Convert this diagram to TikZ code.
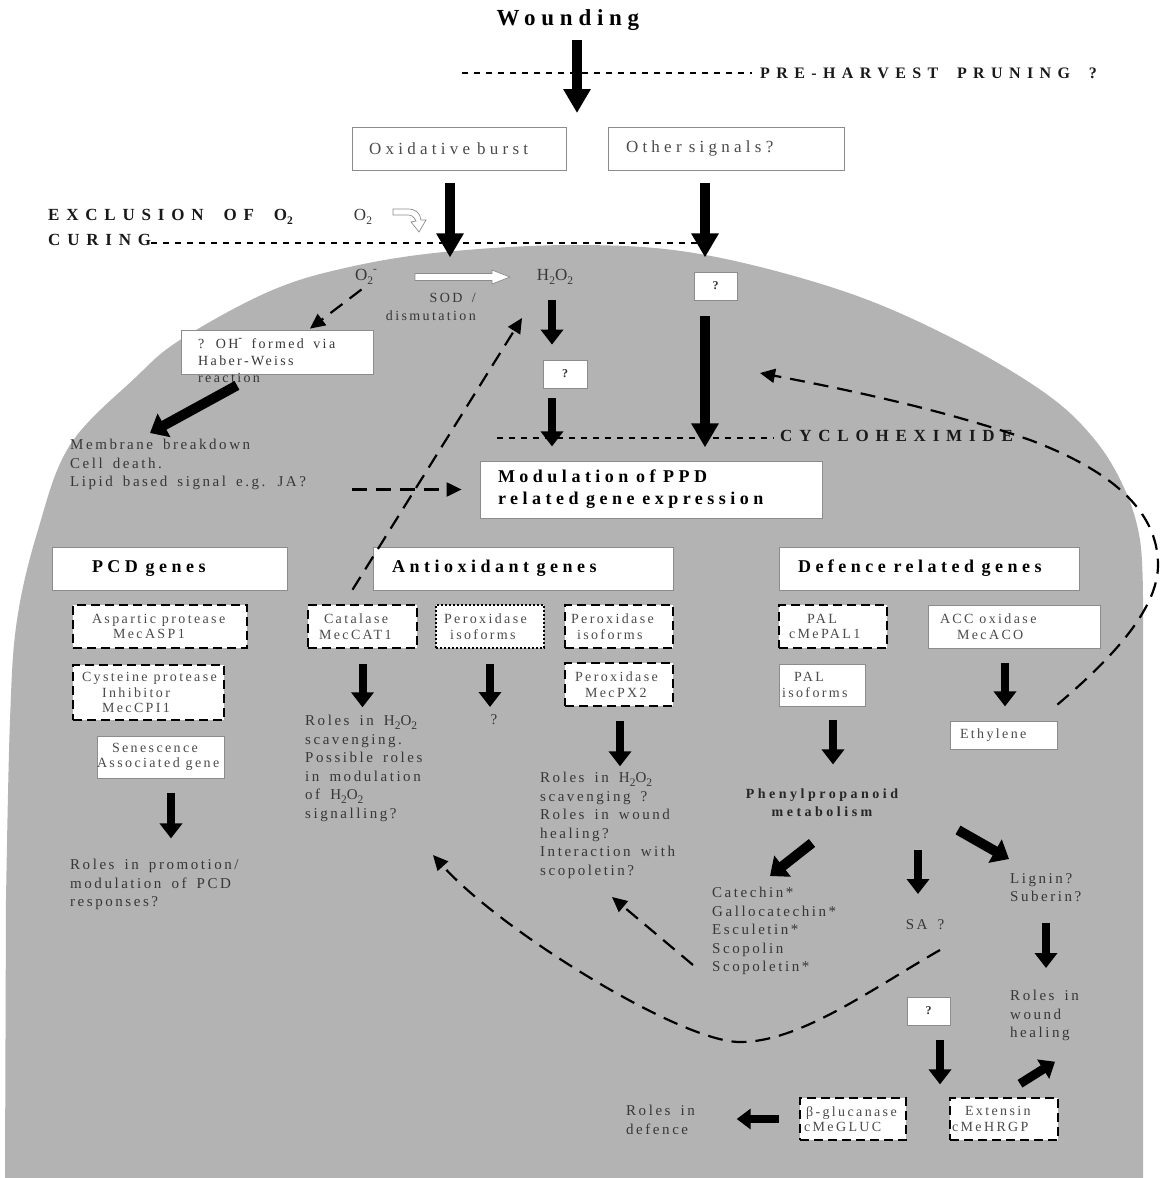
\documentclass[tikz,border=0pt]{standalone}
\usepackage{fontspec}
\setmainfont{Liberation Serif}
\newfontfamily\rtxt{Liberation Serif}[LetterSpace=17,WordSpace=1.6]
\newfontfamily\btxt{Liberation Serif}[LetterSpace=25,WordSpace=1.8]
\newfontfamily\ctxt{Liberation Serif}[LetterSpace=40,WordSpace=1.8]
\usetikzlibrary{arrows.meta}
\definecolor{cellgrey}{RGB}{179,179,179}
\definecolor{txtgrey}{RGB}{55,55,55}
\definecolor{boxtxt}{RGB}{75,75,75}
\definecolor{edgegrey}{RGB}{140,140,140}
\newcommand\sbs[1]{\raisebox{-0.25em}{\fontsize{11.5}{11.5}\selectfont #1}}
\newcommand\sps[1]{\raisebox{0.5em}{\fontsize{11.5}{11.5}\selectfont #1}}
\newcommand\wsp{\spaceskip=0.42em plus 0.1em\relax}
\begin{document}
\begin{tikzpicture}[x=1pt,y=-1pt,
  body/.style={font={\rtxt\fontsize{15}{18.5}\selectfont}, text=txtgrey, inner sep=0pt, align=left, anchor=north west},
  boxf/.style={font={\rtxt\fontsize{14}{15.5}\selectfont}, text=boxtxt},
  solidbox/.style={draw=edgegrey, line width=0.8pt, fill=white, inner sep=0pt, align=left, execute at begin node=\wsp},
  dashbox/.style={draw=black, line width=2.6pt, dash pattern=on 9pt off 5pt, fill=white, inner sep=0pt, align=left, execute at begin node=\wsp},
  dotbox/.style={draw=black, line width=2pt, dash pattern=on 2pt off 2pt, fill=white, inner sep=0pt, align=left, execute at begin node=\wsp},
  hdr/.style={solidbox, font={\btxt\bfseries\fontsize{18}{22}\selectfont}, text=black},
  qbox/.style={solidbox, align=center, font={\bfseries\fontsize{12}{12}\selectfont}, text=black!80},
  capsf/.style={font={\ctxt\bfseries\fontsize{17}{19}\selectfont}, text=black!90, inner sep=0pt, anchor=west},
  arr/.style={line width=8pt, -{Triangle[length=15pt,width=22pt]}},
  bigarr/.style={line width=10pt, -{Triangle[length=24pt,width=26pt]}},
  diagarr/.style={line width=10pt, -{Triangle[length=16pt,width=26pt]}},
  dasharr/.style={line width=2.2pt, dash pattern=on 15pt off 9pt, -{Triangle[length=15pt,width=14pt]}},
  thindash/.style={line width=1.3pt, dash pattern=on 6pt off 6pt}
]
\useasboundingbox (0,0) rectangle (1161,1178);
\fill[white] (0,0) rectangle (1161,1178);
% cell
\fill[cellgrey] (5,1178) -- plot[smooth, tension=0.6] coordinates {(6,900) (10,720) (17,620) (38,530) (70,445) (135,378) (180,340) (268,292) (345,268) (444,252) (580,245) (700,254) (840,290) (950,337) (1045,393) (1095,440) (1125,490) (1140,540) (1143,600)} -- (1143,1178) -- cycle;

% top
\node[font={\btxt\bfseries\fontsize{23}{26}\selectfont}, inner sep=0pt] (wound) at (568,20) {Wounding};
\node[capsf, font={\ctxt\bfseries\fontsize{16}{18}\selectfont}] (prune) at (760,73) {PRE-HARVEST PRUNING ?};
\coordinate (pr0) at (462,73);
\draw[thindash] (pr0) -- ([xshift=-8pt]prune.west);
\coordinate (w0) at (577,40);
\coordinate (w1) at (577,113);
\draw[bigarr] (w0) -- (w1);

\node[solidbox, font={\btxt\fontsize{17}{20}\selectfont}, text=boxtxt, text width=214pt, minimum height=43pt] (ox) at (459,148.5) {\hspace*{17pt}Oxidative burst};
\node[solidbox, font={\btxt\fontsize{17}{20}\selectfont}, text=boxtxt, text width=236pt, minimum height=43pt] (other) at (726,148.5) {\hspace*{18pt}Other signals?};

\node[capsf] (excl) at (48,217) {EXCLUSION OF O\sbs{2}};
\node[capsf] (cur) at (48,240) {CURING};
\coordinate (curEnd) at (702,243);
\draw[thindash] (cur.east |- curEnd) -- (curEnd);

\node[font={\rtxt\fontsize{17}{20}\selectfont}, text=txtgrey] (o2) at (363,217) {O\sbs{2}};
\draw[edgegrey, line width=0.7pt, fill=white] (393,209) -- (408,209) .. controls (416,209) and (420,213) .. (421,220) -- (426,220) -- (419,232) -- (411,222) -- (416,221) .. controls (414,217) and (412,215) .. (408,215) -- (393,215) -- cycle;

\draw[bigarr] ([xshift=-9pt,yshift=-13pt]ox.south) -- ++(0,74);
\draw[bigarr] ([xshift=-21pt,yshift=-13pt]other.south) -- ++(0,74);

% ROS
\node[font={\rtxt\fontsize{17}{20}\selectfont}, text=txtgrey] (o2m) at (366,277) {O\sbs{2}\sps{-}};
\node[font={\rtxt\fontsize{17}{20}\selectfont}, text=txtgrey] (h2o2) at (555,277) {H\sbs{2}O\sbs{2}};
\draw[edgegrey, line width=0.7pt, fill=white] (415,273.5) -- (492,273.5) -- (492,270) -- (510,277) -- (492,284) -- (492,280.5) -- (415,280.5) -- cycle;
\node[font={\rtxt\fontsize{14}{18}\selectfont}, text=txtgrey, align=right, anchor=north east, inner sep=0pt] (sod) at (476,293) {SOD /\\dismutation};

\node[solidbox, minimum width=192pt, minimum height=44pt] (ohb) at (277,352) {};
\node[body, font={\rtxt\fontsize{14}{17}\selectfont}] (oht) at (198,338) {? OH\sps{-} formed via\\Haber-Weiss\\reaction};
\draw[dasharr] ([xshift=10pt,yshift=-1pt]o2m.south west) -- ([xshift=33pt,yshift=1pt]ohb.north);
\node[body] (mem) at (70,439) {Membrane breakdown\\Cell death.\\Lipid based signal e.g. JA?};
\draw[diagarr] ([xshift=-40pt,yshift=-11pt]ohb.south) -- ([xshift=80pt,yshift=6pt]mem.north west);

% H2O2 branch
\node[qbox, minimum width=44pt, minimum height=28pt] (q2) at (565,374) {?};
\draw[arr] ([xshift=-13pt,yshift=60pt]q2.north) -- ([xshift=-13pt,yshift=15pt]q2.north);
\draw[arr] ([xshift=-13pt,yshift=-10pt]q2.south) -- ++(0,48);
\node[qbox, minimum width=43pt, minimum height=28pt] (q1) at (715.5,286) {?};
\draw[bigarr] ([xshift=-10.5pt,yshift=-16pt]q1.south) -- ++(0,131);

\node[capsf] (cyc) at (780,436) {CYCLOHEXIMIDE};
\coordinate (cy0) at (497,438);
\draw[thindash] (cy0) -- ([xshift=-6pt]cyc.west |- cy0);

\node[solidbox, font={\btxt\bfseries\fontsize{18}{22}\selectfont}, text=black, text width=342pt, minimum height=57pt] (mod) at (651,489.5) {\hspace*{18pt}Modulation of PPD\\\hspace*{18pt}related gene expression};
\draw[dasharr] ([xshift=-128pt]mod.west) -- ([xshift=-18pt]mod.west);

% headers
\node[hdr, text width=235pt, minimum height=43pt] (pcd) at (169.5,568.5) {\hspace*{40pt}PCD genes};
\node[hdr, text width=300pt, minimum height=43pt] (anti) at (523,568.5) {\hspace*{19pt}Antioxidant genes};
\node[hdr, text width=300pt, minimum height=43pt] (def) at (929,568.5) {\hspace*{19pt}Defence related genes};

% PCD column
\node[dashbox, boxf, text width=174pt, minimum height=43pt] (asp) at (160,626.5) {\hspace*{19pt}Aspartic protease\\\hspace*{40pt}MecASP1};
\node[dashbox, boxf, text width=151pt, minimum height=55pt] (cys) at (148.5,692.5) {\hspace*{9pt}Cysteine protease\\\hspace*{29pt}Inhibitor\\\hspace*{29pt}MecCPI1};
\node[solidbox, boxf, text width=127pt, minimum height=42pt] (sen) at (160.5,757) {\hspace*{15pt}Senescence\\Associated gene};
\draw[arr] ([xshift=10.5pt,yshift=-15pt]sen.south) -- ++(0,45);
\node[body] (pcdr) at (70,859) {Roles in promotion/\\modulation of PCD\\responses?};

% antioxidant column
\node[dashbox, boxf, text width=109pt, minimum height=43pt] (cat) at (362.5,626.5) {\hspace*{16pt}Catalase\\\hspace*{11pt}MecCAT1};
\node[dotbox, boxf, text width=108pt, minimum height=43pt] (perd) at (490,626.5) {\hspace*{8pt}Peroxidase\\\hspace*{14pt}isoforms};
\node[dashbox, boxf, text width=108pt, minimum height=43pt] (pera) at (619,626.5) {\hspace*{6pt}Peroxidase\\\hspace*{12pt}isoforms};
\node[dashbox, boxf, text width=108pt, minimum height=43pt] (px2) at (619,684.5) {\hspace*{10pt}Peroxidase\\\hspace*{20pt}MecPX2};
\draw[arr] ([yshift=-15pt]cat.south) -- ++(0,43);
\draw[arr] ([yshift=-15pt]perd.south) -- ++(0,43);
\draw[arr] ([xshift=1pt,yshift=-14pt]px2.south) -- ++(0,45);
\node[body] (catr) at (305,715) {Roles in H\sbs{2}O\sbs{2}\\scavenging.\\Possible roles\\in modulation\\of H\sbs{2}O\sbs{2}\\signalling?};
\node[font={\rtxt\fontsize{15}{18}\selectfont}, text=txtgrey] (qm) at (494,720) {?};
\node[body] (pxr) at (540,772) {Roles in H\sbs{2}O\sbs{2}\\scavenging ?\\Roles in wound\\healing?\\Interaction with\\scopoletin?};
\coordinate (hpTip) at (522,318);
\draw[dasharr] ([xshift=-10pt,yshift=14pt]cat.north) -- (hpTip);

% defence column
\node[dashbox, boxf, text width=108pt, minimum height=43pt] (pal1) at (833,626.5) {\hspace*{28pt}PAL\\\hspace*{10pt}cMePAL1};
\node[solidbox, boxf, text width=172pt, minimum height=43pt] (acc) at (1014,626.5) {\hspace*{12pt}ACC oxidase\\\hspace*{29pt}MecACO};
\node[solidbox, boxf, text width=86pt, minimum height=42pt] (pali) at (822,685) {\hspace*{15pt}PAL\\\hspace*{3pt}isoforms};
\node[solidbox, boxf, text width=107pt, minimum height=28pt] (eth) at (1003.5,735) {\hspace*{10pt}Ethylene};
\draw[arr] ([xshift=-9pt,yshift=-15pt]acc.south) -- ++(0,43);
\draw[arr] ([xshift=11pt,yshift=-14pt]pali.south) -- ++(0,44);
\node[font={\btxt\bfseries\fontsize{14}{18}\selectfont}, text=black!85, align=center, inner sep=0pt] (phen) at (822,803) {Phenylpropanoid\\metabolism};
\coordinate (pd1) at (812,843); \coordinate (pd2) at (770,876);
\draw[diagarr] (pd1) -- (pd2);
\coordinate (pm1) at (918,850); \coordinate (pm2) at (918,894);
\draw[arr] (pm1) -- (pm2);
\coordinate (pr1) at (958,830); \coordinate (pr2) at (1009,859);
\draw[diagarr] (pr1) -- (pr2);
\node[body] (cats) at (712,887) {Catechin*\\Gallocatechin*\\Esculetin*\\Scopolin\\Scopoletin*};
\node[font={\rtxt\fontsize{15}{18}\selectfont}, text=txtgrey] (sa) at (925,925) {SA ?};
\node[body] (lig) at (1010,873) {Lignin?\\Suberin?};
\coordinate (lg1) at (1046,923); \coordinate (lg2) at (1046,968);
\draw[arr] (lg1) -- (lg2);
\node[body] (rwh) at (1010,990) {Roles in\\wound\\healing};
\node[qbox, minimum width=43pt, minimum height=28pt] (q3) at (928.5,1011) {?};
\draw[arr] ([xshift=11.5pt,yshift=-15pt]q3.south) -- ++(0,44);
\node[dashbox, boxf, text width=106pt, minimum height=42pt] (glu) at (853,1119) {\hspace*{6pt}β-glucanase\\\hspace*{4pt}cMeGLUC};
\node[dashbox, boxf, text width=108pt, minimum height=42pt] (ext) at (1004,1119) {\hspace*{15pt}Extensin\\\hspace*{2pt}cMeHRGP};
\draw[line width=9pt, -{Triangle[length=14pt,width=22pt]}] ([xshift=16pt,yshift=13pt]ext.north) -- ++(35,-22);
\draw[line width=8pt, -{Triangle[length=14pt,width=20pt]}] ([xshift=-20pt]glu.west) -- ++(-42,0);
\node[body] (rdef) at (626,1105) {Roles in\\defence};

% dashed feedbacks
\coordinate (ethTip) at (760,373);
\draw[dasharr] ([yshift=16pt]eth.north east) .. controls (1110,660) and (1158,610) .. (1158,565) .. controls (1158,510) and (1110,470) .. (1030,440) .. controls (950,412) and (860,392) .. (ethTip);
\coordinate (sa0) at (940,950);
\coordinate (saTip) at (433,855);
\draw[dasharr] (sa0) .. controls (870,990) and (800,1042) .. (740,1042) .. controls (680,1042) and (500,930) .. (saTip);
\coordinate (sc0) at (693,965);
\coordinate (scTip) at (612,897);
\draw[dasharr] (sc0) -- (scTip);
\end{tikzpicture}
\end{document}
